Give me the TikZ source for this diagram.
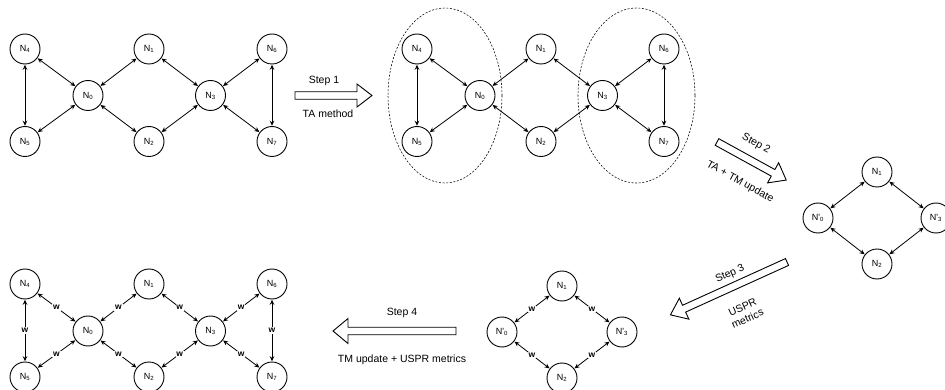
\documentclass[tikz,border=0pt]{standalone}
\usepackage{fontspec}
\setmainfont{Liberation Sans}
\usetikzlibrary{arrows.meta}
\newcommand\blkarrow[5]{% x, y, angle, length, head half-width
  \draw[blk, shift={(#1,#2)}, rotate=#3] (0,-3.75) -- ({#4-15},-3.75) -- ({#4-15},-#5) -- (#4,0) -- ({#4-15},#5) -- ({#4-15},3.75) -- (0,3.75) -- cycle;}
\begin{document}
\begin{tikzpicture}[x=1pt,y=-1pt,
  nd/.style={circle, draw, line width=0.9pt, minimum size=30pt, inner sep=0pt, font=\fontsize{9}{10}\selectfont},
  lnk/.style={{Stealth[length=5pt,width=4.5pt]}-{Stealth[length=5pt,width=4.5pt]}, line width=0.8pt, shorten <=0.3pt, shorten >=0.3pt},
  wl/.style={fill=white, inner sep=0.8pt, font=\bfseries\fontsize{8.5}{9}\selectfont},
  lbl/.style={font=\fontsize{10.5}{12}\selectfont, inner sep=0pt},
  blk/.style={draw, fill=white, line width=0.9pt, line join=miter},
  grp/.style={draw, dash pattern=on 2pt off 1.6pt, line width=0.55pt}]
\useasboundingbox (0,0) rectangle (945,390);
\fill[white] (0,0) rectangle (945,390);

% ---------- Graph 1 (top left) ----------
\node[nd] (a4) at (25,49) {N\textsubscript{4}};
\node[nd] (a1) at (149,49) {N\textsubscript{1}};
\node[nd] (a6) at (272,49) {N\textsubscript{6}};
\node[nd] (a0) at (88,95.5) {N\textsubscript{0}};
\node[nd] (a3) at (210.5,95.5) {N\textsubscript{3}};
\node[nd] (a5) at (25,141.5) {N\textsubscript{5}};
\node[nd] (a2) at (149,141.5) {N\textsubscript{2}};
\node[nd] (a7) at (272,141.5) {N\textsubscript{7}};
\foreach \p/\q in {4/0,0/1,1/3,3/6,4/5,5/0,0/2,2/3,3/7,6/7}
  \draw[lnk] (a\p) -- (a\q);

% ---------- Step 1 ----------
\blkarrow{295}{95.5}{0}{77}{11.5}
\node[lbl] (s1) at (324,81) {Step 1};
\node[lbl] (s1b) at (328,114) {TA method};

% ---------- Graph 2 (top middle) ----------
\draw[grp] (445,95.5) ellipse [x radius=57, y radius=87.5];
\draw[grp] (636.5,95.5) ellipse [x radius=58.5, y radius=87.5];
\node[nd] (b4) at (417,49) {N\textsubscript{4}};
\node[nd] (b1) at (541,49) {N\textsubscript{1}};
\node[nd] (b6) at (664,49) {N\textsubscript{6}};
\node[nd] (b0) at (480,95.5) {N\textsubscript{0}};
\node[nd] (b3) at (602.5,95.5) {N\textsubscript{3}};
\node[nd] (b5) at (417,141.5) {N\textsubscript{5}};
\node[nd] (b2) at (541,141.5) {N\textsubscript{2}};
\node[nd] (b7) at (664,141.5) {N\textsubscript{7}};
\foreach \p/\q in {4/0,0/1,1/3,3/6,4/5,5/0,0/2,2/3,3/7,6/7}
  \draw[lnk] (b\p) -- (b\q);

% ---------- Step 2 ----------
\blkarrow{717}{142}{-28.8}{79}{11.5}
\node[lbl, rotate=-29] (s2) at (756,144) {Step 2};
\node[lbl, rotate=-29] (s2b) at (740,182) {TA + TM update};

% ---------- Graph 3 (right) ----------
\node[nd] (c1) at (877,172) {N\textsubscript{1}};
\node[nd] (c0) at (818,218) {N\textquotesingle\textsubscript{0}};
\node[nd] (c3) at (936,218) {N\textquotesingle\textsubscript{3}};
\node[nd] (c2) at (877,264) {N\textsubscript{2}};
\foreach \p/\q in {0/1,1/3,0/2,2/3}
  \draw[lnk] (c\p) -- (c\q);

% ---------- Step 3 ----------
\blkarrow{787}{262}{204.4}{128}{11.5}
\node[lbl, rotate=24.4] (s3) at (730,274) {Step 3};
\node[lbl, rotate=24.4, align=center] (s3b) at (745,313) {USPR\\metrics};

% ---------- Graph 4 (bottom middle) ----------
\node[nd] (d1) at (562,286) {N\textsubscript{1}};
\node[nd] (d0) at (502,332) {N\textquotesingle\textsubscript{0}};
\node[nd] (d3) at (622,332) {N\textquotesingle\textsubscript{3}};
\node[nd] (d2) at (562,378) {N\textsubscript{2}};
\foreach \p/\q in {0/1,1/3,0/2,2/3}
  \draw[lnk] (d\p) -- node[wl] {w} (d\q);

% ---------- Step 4 ----------
\blkarrow{456}{331}{180}{123}{12.5}
\node[lbl] (s4) at (402,313) {Step 4};
\node[lbl] (s4b) at (402,360) {TM update + USPR metrics};

% ---------- Graph 5 (bottom left) ----------
\node[nd] (e4) at (25,284) {N\textsubscript{4}};
\node[nd] (e1) at (149,284) {N\textsubscript{1}};
\node[nd] (e6) at (272,284) {N\textsubscript{6}};
\node[nd] (e0) at (88,331) {N\textsubscript{0}};
\node[nd] (e3) at (210.5,331) {N\textsubscript{3}};
\node[nd] (e5) at (25,377) {N\textsubscript{5}};
\node[nd] (e2) at (149,377) {N\textsubscript{2}};
\node[nd] (e7) at (272,377) {N\textsubscript{7}};
\foreach \p/\q in {4/0,0/1,1/3,3/6,4/5,5/0,0/2,2/3,3/7,6/7}
  \draw[lnk] (e\p) -- node[wl] {w} (e\q);
\end{tikzpicture}
\end{document}
